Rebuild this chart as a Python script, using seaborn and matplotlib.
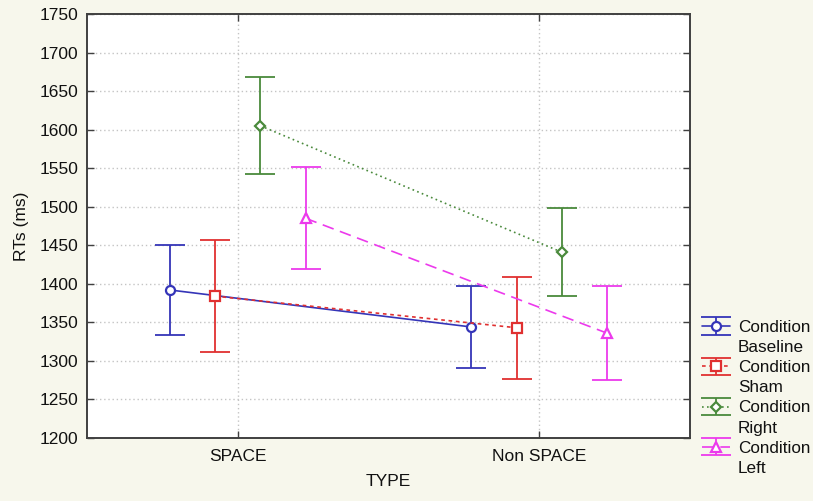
import numpy as np
import pandas as pd
import matplotlib
matplotlib.use("Agg")
import matplotlib.pyplot as plt
from matplotlib.legend_handler import HandlerTuple
from matplotlib.patches import Rectangle
import seaborn as sns

# Mean reaction times and confidence half-widths per condition and type
types = ["SPACE", "Non SPACE"]
conditions = ["Baseline", "Sham", "Right", "Left"]
rt_baseline = [1392, 1344]
rt_sham = [1384, 1343]
rt_right = [1605, 1441]
rt_left = [1485, 1336]
ci_baseline = [59, 53]
ci_sham = [73, 66]
ci_right = [63, 57]
ci_left = [66, 61]
y_ticks = [1200, 1250, 1300, 1350, 1400, 1450, 1500, 1550, 1600, 1650, 1700, 1750]

means = [rt_baseline, rt_sham, rt_right, rt_left]
cis = [ci_baseline, ci_sham, ci_right, ci_left]

colors = ["#3535b8", "#e03030", "#4a8a3c", "#ec3aec"]
markers = ["o", "s", "D", "^"]
msizes = [6.5, 7, 5.5, 7.5]
linestyles = ["-", (0, (2.2, 2.2)), (0, (1, 2)), (0, (7, 4))]
offsets = [-0.225, -0.075, 0.075, 0.225]

sns.set_theme(style="white")
plt.rcParams["font.family"] = ["Liberation Sans", "DejaVu Sans"]

bg = "#f7f7ec"
fig = plt.figure(figsize=(8.13, 5.01), dpi=100, facecolor=bg)
ax = fig.add_axes([87 / 813, 1 - 438 / 501, (690 - 87) / 813, (438 - 14) / 501])
ax.set_facecolor("white")

base_x = np.arange(len(types))
handles = []
labels = []
for i, cond in enumerate(conditions):
    xs = base_x + offsets[i]
    df = pd.DataFrame({"x": xs, "rt": means[i]})
    eb = ax.errorbar(xs, means[i], yerr=cis[i], fmt="none", ecolor=colors[i],
                     elinewidth=1.3, capsize=11, capthick=1.3, zorder=3)
    sns.lineplot(data=df, x="x", y="rt", color=colors[i], linestyle=linestyles[i],
                 linewidth=1.2, marker=markers[i], markersize=msizes[i],
                 markerfacecolor="white", markeredgecolor=colors[i],
                 markeredgewidth=1.6, ax=ax, zorder=4, legend=False)
    line = ax.get_lines()[-1]
    handles.append((eb, line))
    labels.append("Condition")
    handles.append(Rectangle((0, 0), 1, 1, visible=False))
    labels.append(cond)

ax.set_xlim(-0.5, 1.5)
ax.set_ylim(1200, 1750)
ax.set_xticks(base_x)
ax.set_xticklabels(types)
ax.set_yticks(y_ticks)

ax.grid(True, color="#c4c4c4", linestyle=(0, (1, 2)), linewidth=1.0)
ax.set_axisbelow(True)
for s in ax.spines.values():
    s.set_color("#404040")
    s.set_linewidth(1.4)
    s.set_visible(True)

ax.tick_params(axis="both", which="major", direction="in", length=5, width=1,
               color="#404040", labelsize=12.5, labelcolor="#111111",
               top=True, right=True, left=True, bottom=True)
ax.tick_params(axis="x", pad=8)
ax.tick_params(axis="y", pad=6)

ax.set_xlabel("TYPE", fontsize=12.5, color="#111111", labelpad=7)
ax.set_ylabel("RTs (ms)", fontsize=12.5, color="#111111", labelpad=8)

leg = fig.legend(handles, labels, loc="upper left",
                 bbox_to_anchor=(702 / 813, 1 - 320 / 501),
                 handler_map={tuple: HandlerTuple(ndivide=1)},
                 frameon=False, fontsize=12.3, labelspacing=0.3,
                 handlelength=1.65, handletextpad=0.45, borderpad=0,
                 borderaxespad=0)
for t in leg.get_texts():
    t.set_color("#111111")

fig.savefig("out.png", dpi=100, facecolor=bg)
